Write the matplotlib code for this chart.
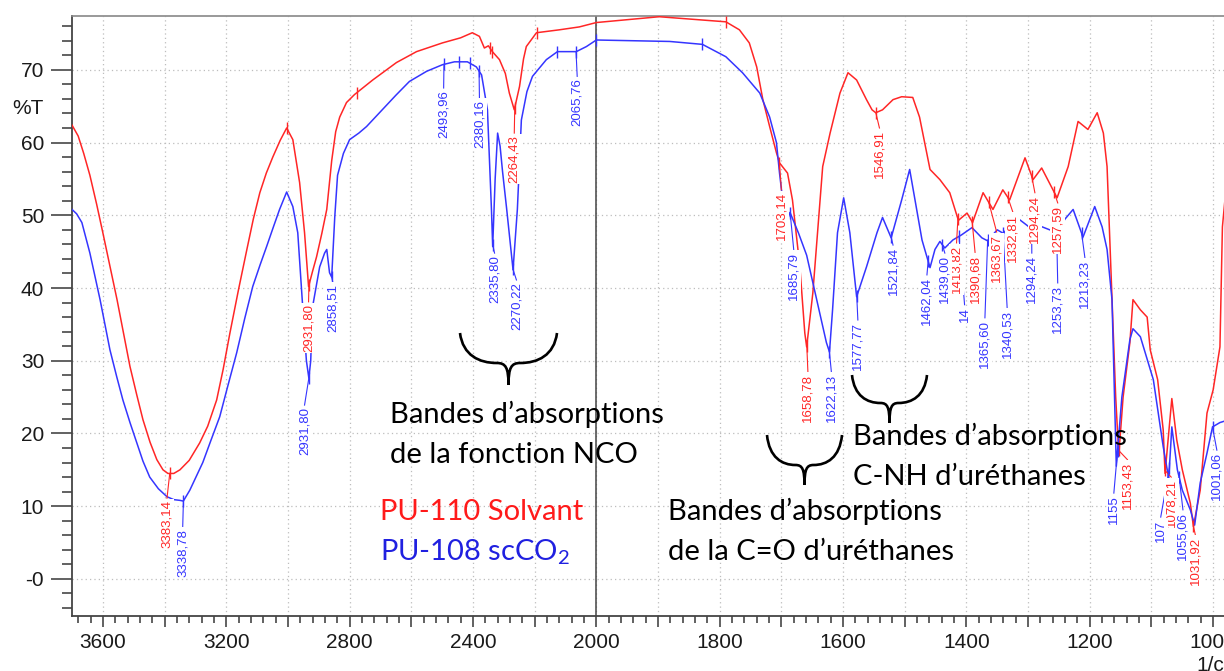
import numpy as np
import matplotlib
matplotlib.use('Agg')
import matplotlib.pyplot as plt
from matplotlib.path import Path
from matplotlib.patches import PathPatch
from matplotlib.transforms import Affine2D

plt.rcParams['mathtext.fontset'] = 'custom'
plt.rcParams['mathtext.rm'] = 'Lato'

# PU-110 Solvant (red)
red_x = [3700, 3680, 3662, 3642, 3620, 3600, 3577, 3554, 3533, 3512, 3490, 3470, 3447, 3425,
         3405, 3389, 3370, 3350, 3320, 3286, 3260, 3231, 3210, 3188, 3160, 3133, 3112, 3091,
         3070, 3049, 3025, 3004, 2984, 2962, 2946, 2933, 2920, 2907, 2890, 2874, 2858, 2845,
         2832, 2810, 2784, 2725, 2648, 2583, 2499, 2440, 2402, 2379, 2363, 2350, 2337, 2314,
         2295, 2282, 2266, 2249, 2236, 2227, 2194, 2120, 2055, 2000,
         1898, 1790, 1768, 1752, 1740, 1730, 1719, 1708, 1703, 1690, 1682, 1670, 1662, 1659,
         1649, 1633, 1621, 1605, 1592, 1578, 1562, 1553, 1547, 1536, 1519, 1505, 1487, 1476,
         1459, 1443, 1427, 1413, 1399, 1390, 1373, 1357, 1341, 1330, 1305, 1292, 1278, 1253,
         1235, 1219, 1203, 1188, 1178, 1172, 1164, 1158, 1153, 1146, 1135, 1130, 1118, 1107,
         1102, 1090, 1081, 1078, 1067, 1059, 1050, 1037, 1032, 1021, 1010, 1000, 989, 985, 970]
red_y = [62.4, 60.9, 58.5, 55.5, 51.5, 47.6, 43.0, 38.4, 33.8, 29.2, 25.3, 21.9, 18.8, 16.4,
         15.0, 14.5, 14.5, 15.0, 16.3, 18.7, 21.0, 24.6, 28.8, 33.8, 39.8, 45.3, 49.5, 53.1,
         55.8, 58.0, 60.3, 62.0, 60.4, 54.5, 47.6, 40.2, 42.3, 44.3, 47.5, 50.8, 57.5, 61.5,
         63.5, 65.5, 66.6, 68.6, 71.0, 72.5, 73.7, 74.4, 75.1, 74.6, 73.0, 73.3, 72.5, 71.4,
         69.5, 66.8, 64.5, 67.7, 71.5, 73.2, 75.1, 75.5, 75.9, 76.5,
         77.3, 76.6, 75.5, 73.7, 70.4, 65.9, 62.2, 58.6, 57.2, 55.8, 52.1, 42.9, 33.8, 31.9,
         39.3, 56.7, 61.3, 66.8, 69.6, 68.6, 65.9, 64.5, 64.1, 64.5, 65.9, 66.3, 66.2, 63.5,
         56.3, 54.9, 53.1, 49.3, 50.3, 49.0, 53.1, 50.8, 53.5, 52.1, 57.9, 54.9, 56.5, 52.4,
         56.7, 62.9, 61.8, 64.1, 61.3, 56.7, 38.4, 25.0, 17.0, 25.0, 32.5, 38.4, 37.0, 36.0,
         31.5, 27.4, 20.5, 14.5, 24.8, 19.1, 15.0, 10.4, 7.2, 12.2, 22.8, 26.0, 31.9, 48.4, 62.0]

# PU-108 scCO2 (blue)
blue_x = [3700, 3685, 3668, 3642, 3609, 3577, 3555, 3535, 3512, 3490, 3470, 3448, 3420, 3392,
          3370, 3350, 3339, 3318, 3276, 3250, 3221, 3195, 3166, 3140, 3114, 3090, 3069, 3047,
          3027, 3004, 2984, 2968, 2952, 2940, 2932, 2926, 2920, 2897, 2881, 2874, 2865, 2858,
          2848, 2839, 2820, 2800, 2770, 2745, 2703, 2650, 2606, 2550, 2499, 2460, 2418, 2389,
          2372, 2353, 2340, 2336, 2328, 2320, 2312, 2304, 2291, 2270, 2256, 2243, 2225, 2207,
          2162, 2126, 2065, 2032, 2000,
          1881, 1828, 1790, 1763, 1735, 1719, 1708, 1703, 1693, 1686, 1672, 1659, 1643, 1627,
          1622, 1617, 1609, 1599, 1589, 1578, 1562, 1545, 1536, 1522, 1505, 1492, 1472, 1459,
          1451, 1443, 1435, 1422, 1408, 1391, 1375, 1366, 1350, 1340, 1320, 1300, 1294, 1280,
          1265, 1254, 1240, 1227, 1211, 1192, 1180, 1172, 1164, 1160, 1157, 1148, 1135, 1130,
          1118, 1097, 1081, 1072, 1067, 1058, 1050, 1037, 1030, 1021, 1010, 1001, 989, 970]
blue_y = [50.8, 50.2, 49.0, 44.8, 38.4, 31.5, 27.8, 24.6, 21.5, 18.7, 16.2, 14.0, 12.4, 11.3,
          10.9, 10.8, 10.7, 12.2, 16.0, 19.0, 22.3, 26.5, 31.1, 35.8, 40.2, 43.2, 45.7, 48.4,
          50.8, 53.2, 51.2, 47.6, 37.4, 30.0, 27.6, 30.0, 37.4, 42.9, 44.8, 45.3, 42.1, 41.5,
          49.8, 55.5, 58.5, 60.4, 61.3, 62.2, 64.1, 66.5, 68.4, 69.8, 70.7, 71.1, 71.1, 70.4,
          69.3, 64.5, 50.8, 45.7, 55.0, 61.3, 59.5, 56.0, 51.0, 42.5, 50.8, 63.1, 67.0, 69.1,
          71.4, 72.5, 72.5, 73.2, 74.1,
          73.9, 73.5, 71.8, 69.6, 66.8, 63.5, 60.0, 55.8, 48.6, 50.4, 47.5, 44.5, 38.5, 32.5,
          31.2, 37.0, 47.6, 52.4, 47.6, 38.8, 42.9, 47.6, 49.7, 46.9, 52.1, 56.3, 46.6, 42.8,
          45.3, 46.4, 45.5, 46.6, 47.3, 48.3, 46.9, 46.5, 48.0, 47.5, 49.8, 48.5, 48.0, 48.5,
          48.0, 47.6, 49.5, 50.8, 47.0, 51.2, 48.4, 45.3, 38.4, 25.0, 15.5, 25.0, 32.9, 34.4,
          33.3, 27.4, 18.2, 13.8, 20.9, 15.0, 12.2, 9.5, 7.4, 13.2, 17.3, 20.9, 21.5, 22.0]

# peak labels: wavenumber, text, label position (wavenumber), top of label (%T)
red_peaks = [3383.14, 2931.80, 2264.43, 1703.14, 1658.78, 1546.91, 1413.82, 1390.68,
             1363.67, 1332.81, 1294.24, 1257.59, 1153.43, 1078.21, 1031.92]
red_texts = ['3383,14', '2931,80', '2264,43', '1703,14', '1658,78', '1546,91', '1413,82',
             '1390,68', '1363,67', '1332,81', '1294,24', '1257,59', '1153,43', '1078,21', '1031,92']
red_lx = [3392, 2933, 2266, 1700, 1657, 1541, 1416, 1386, 1351, 1325, 1289, 1252, 1139, 1068, 1029]
red_tops = [11.1, 38.1, 61.3, 53.5, 28.5, 62.0, 46.2, 44.9, 47.7, 50.5, 53.1, 51.7, 16.4, 14.0, 6.1]
red_marks = [3004, 2777, 2345, 2337, 2191, 1790]

blue_peaks = [3338.78, 2931.80, 2858.51, 2493.96, 2380.16, 2335.80, 2270.22, 2065.76,
              1685.79, 1622.13, 1577.77, 1521.84, 1462.04, 1439.00, 1412.00, 1365.60,
              1340.53, 1294.24, 1253.73, 1213.23, 1155.00, 1071.00, 1055.06, 1001.06]
blue_texts = ['3338,78', '2931,80', '2858,51', '2493,96', '2380,16', '2335,80', '2270,22',
              '2065,76', '1685,79', '1622,13', '1577,77', '1521,84', '1462,04', '1439,00',
              '14', '1365,60', '1340,53', '1294,24', '1253,73', '1213,23', '1155', '107',
              '1055,06', '1001,06']
blue_lx = [3341, 2946, 2855, 2495, 2379, 2330, 2259, 2062, 1680, 1619, 1576, 1519, 1464, 1435,
           1403, 1370, 1334, 1294, 1252, 1208, 1161, 1085, 1049, 994]
blue_tops = [7.2, 23.9, 40.9, 67.5, 66.2, 44.8, 41.1, 69.1, 45.3, 28.5, 35.6, 45.9, 41.8,
             44.8, 37.7, 35.9, 37.3, 44.8, 40.7, 44.2, 11.8, 8.5, 9.5, 17.7]
blue_marks = [2444, 2411, 2126, 2000, 1828]

x_labeled = [3600, 3200, 2800, 2400, 2000, 1800, 1600, 1400, 1200, 1000]
y_labels = ['-0', '10', '20', '30', '40', '50', '60', '70']

RED = '#ff2626'
BLUE = '#3535ff'
W, H = 1224, 671


def fwd(x):
    x = np.asarray(x, dtype=float)
    return np.where(x > 2000, 2000 + (x - 2000) / 2, x)


def inv(t):
    t = np.asarray(t, dtype=float)
    return np.where(t > 2000, 2000 + (t - 2000) * 2, t)


def draw_series(ax, xs, ys, color, marks):
    ax.plot(xs, ys, color=color, lw=1.1, zorder=3)
    xi = np.array(xs[::-1], dtype=float)
    yi = np.array(ys[::-1], dtype=float)
    for m in marks:
        ax.plot(m, np.interp(m, xi, yi), marker='|', ms=8, mew=1.0, color=color, zorder=4)
    return xi, yi


def draw_labels(ax, xi, yi, color, peaks, texts, lxs, tops):
    for p, t, lx, top in zip(peaks, texts, lxs, tops):
        yc = np.interp(p, xi, yi)
        ax.plot([p, lx], [yc, top], color=color, lw=0.8, zorder=5)
        ax.plot(p, yc, marker='|', ms=8, mew=1.0, color=color, zorder=5)
        ax.text(lx, top - 0.3, t, rotation=90, ha='center', va='top', fontsize=9.5,
                color=color, family='Liberation Sans', zorder=6,
                bbox=dict(boxstyle='square,pad=0.1', fc='white', ec='none'))


def brace(fig, x0, x1, yt, arm, stem):
    # pixel coords, y pointing down
    w = x1 - x0
    xm = (x0 + x1) / 2
    ya = yt + arm
    verts = []
    for side in (-1, 1):
        xe = x0 if side < 0 else x1
        verts += [(xe, yt), (xe - side * 0.03 * w, yt + 0.75 * arm),
                  (xe - side * 0.2 * w, ya), (xm + side * 0.12 * w, ya),
                  (xm + side * 0.03 * w, ya), (xm, ya + 0.2 * stem), (xm, ya + stem)]
    codes = ([Path.MOVETO] + [Path.CURVE4] * 6) * 2
    tr = Affine2D().scale(1 / W, -1 / H).translate(0, 1) + fig.transFigure
    fig.patches.append(PathPatch(Path(verts, codes), facecolor='none', edgecolor='black',
                                 lw=1.9, transform=tr, figure=fig))


def ftext(fig, x, y, s, color='black'):
    fig.text(x / W, 1 - y / H, s, ha='left', va='baseline', fontsize=21, color=color,
             family=['Lato', 'DejaVu Sans'])


fig = plt.figure(figsize=(12.24, 6.71), dpi=100)
ax = fig.add_axes([72 / W, 1 - 616 / H, (1244 - 72) / W, 600 / H])
ax.set_xscale('function', functions=(fwd, inv))

rxi, ryi = draw_series(ax, red_x, red_y, RED, red_marks)
bxi, byi = draw_series(ax, blue_x, blue_y, BLUE, blue_marks)
draw_labels(ax, rxi, ryi, RED, red_peaks, red_texts, red_lx, red_tops)
draw_labels(ax, bxi, byi, BLUE, blue_peaks, blue_texts, blue_lx, blue_tops)

ax.set_xlim(3700, 950)
ax.set_ylim(-5.1, 77.4)

major_x = list(range(3600, 2000, -200)) + list(range(2000, 999, -100))
minor_x = list(range(3680, 2000, -40)) + list(range(2000, 960, -20))
ax.set_xticks(major_x)
ax.set_xticklabels([str(v) if v in x_labeled else '' for v in major_x])
ax.set_xticks(minor_x, minor=True)
ax.set_yticks(range(0, 71, 10))
ax.set_yticklabels(y_labels)
ax.set_yticks(range(-4, 77, 2), minor=True)

ax.tick_params(axis='both', which='both', direction='out', color='#555', width=1.3,
               labelsize=15, labelcolor='#1a1a1a')
ax.tick_params(axis='y', which='major', length=15, pad=5)
ax.tick_params(axis='y', which='minor', length=7.5)
ax.tick_params(axis='x', which='major', length=8, pad=4)
ax.tick_params(axis='x', which='minor', length=5)
for lab in ax.get_xticklabels() + ax.get_yticklabels():
    lab.set_family('Liberation Sans')

ax.grid(True, which='major', color='#bdbdbd', linestyle=(0, (1, 2.5)), lw=0.9)
ax.axvline(2000, color='#444', lw=1.1, zorder=2)
for s in ['left', 'bottom']:
    ax.spines[s].set_color('#444')
    ax.spines[s].set_linewidth(1.3)
ax.spines['top'].set_color('#888')
ax.spines['top'].set_linewidth(1.2)
ax.spines['right'].set_visible(False)

fig.text(12 / W, 1 - 108 / H, '%T', ha='left', va='center', fontsize=15,
         family='Liberation Sans', color='#1a1a1a')
fig.text(1196 / W, 1 - 656 / H, '1/cm', ha='left', va='top', fontsize=15,
         family='Liberation Sans', color='#1a1a1a')

brace(fig, 460, 557, 333, 30, 22)
brace(fig, 767, 842, 435, 30, 20)
brace(fig, 852, 927, 375, 28, 20)

ftext(fig, 390, 423, 'Bandes d’absorptions')
ftext(fig, 390, 463, 'de la fonction NCO')
ftext(fig, 380, 520, 'PU-110 Solvant', color='#ff1a1a')
ftext(fig, 380, 560, 'PU-108 scCO$_\\mathregular{2}$', color='#2020e0')
ftext(fig, 668, 520, 'Bandes d’absorptions')
ftext(fig, 668, 560, 'de la C=O d’uréthanes')
ftext(fig, 853, 445, 'Bandes d’absorptions')
ftext(fig, 853, 485, 'C-NH d’uréthanes')

fig.savefig('out.png', dpi=100)
